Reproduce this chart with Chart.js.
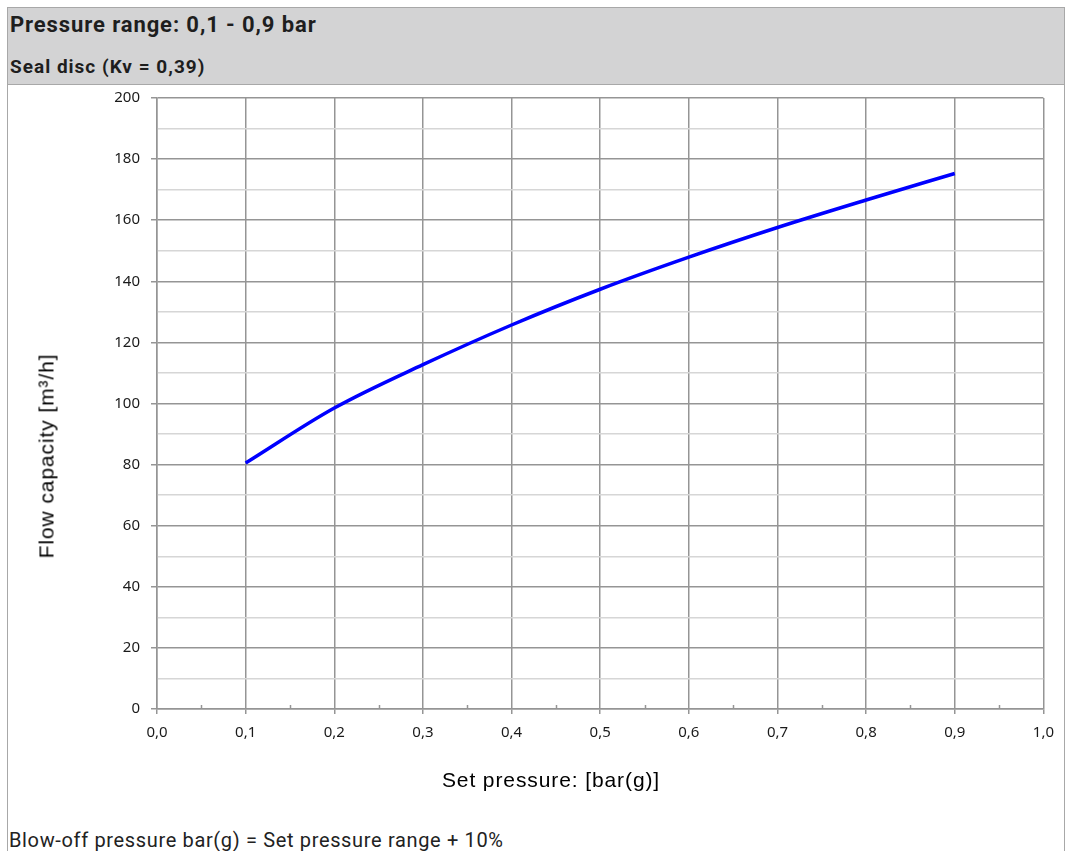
<!DOCTYPE html>
<html lang="en">
<head>
    <meta charset="UTF-8">
    <title>Flow capacity - Seal disc</title>
    <script src="https://cdn.jsdelivr.net/npm/chart.js"></script>
    <style>
        html, body { margin: 0; padding: 0; background: #fff; overflow: hidden; }
        body { width: 1072px; height: 851px; position: relative; }
        .frame {
            position: absolute; left: 7px; top: 7px; width: 1056px; height: 900px;
            border: 1px solid #a8a8a8;
        }
        .head {
            position: absolute; left: 7px; top: 7px; width: 1056px; height: 76px;
            background: #d3d3d4; border: 1px solid #a8a8a8;
        }
        .txt { position: absolute; white-space: nowrap; line-height: 1; color: #1e1e1e; font-family: Roboto, sans-serif; }
        .title { left: 10px; top: 14px; font-size: 22px; letter-spacing: 0.9px; font-weight: bold; }
        .subtitle { left: 10px; top: 57px; font-size: 19px; letter-spacing: 1px; font-weight: bold; }
        .footer { left: 9px; top: 830px; font-size: 20px; letter-spacing: 0.65px; color: #222; }
        .axis-title { font-family: "Liberation Sans", Arial, sans-serif; font-size: 21px; letter-spacing: 0.9px; color: #000; }
        .x-title { left: 551px; top: 769px; transform: translateX(-50%); }
        .y-title { left: 46px; top: 456px; transform: translate(-50%, -50%) rotate(-90deg); }
        .chart-box { position: absolute; left: 8px; top: 85px; width: 1056px; height: 725px; }
    </style>
</head>
<body>
    <div class="frame"></div>
    <div class="head"></div>
    <div class="txt title">Pressure range: 0,1 - 0,9 bar</div>
    <div class="txt subtitle">Seal disc (Kv = 0,39)</div>

    <div class="chart-box">
        <canvas id="flowChart" width="1056" height="725"></canvas>
    </div>

    <div class="txt axis-title y-title">Flow capacity [m³/h]</div>
    <div class="txt axis-title x-title">Set pressure: [bar(g)]</div>
    <div class="txt footer">Blow-off pressure bar(g) = Set pressure range + 10%</div>

    <script>
        // set pressure [bar(g)] and flow capacity [m3/h]
        const setPressure = [0.1, 0.2, 0.3, 0.4, 0.5, 0.6, 0.7, 0.8, 0.9];
        const flowCapacity = [80.5, 98.5, 112.7, 125.7, 137.4, 147.9, 157.6, 166.6, 175.3];

        // axis ticks
        const xMin = 0, xMax = 1, xStep = 0.1;
        const yMin = 0, yMax = 200, yStep = 10, yLabelStep = 20;
        const xMinorTicks = [0.05, 0.15, 0.25, 0.35, 0.45, 0.55, 0.65, 0.75, 0.85, 0.95];

        const majorGrid = '#959595';
        const minorGrid = '#d6d6d6';
        const tickFont = { family: '"Noto Sans", sans-serif', size: 15 };

        // small tick marks between the labelled x ticks, sitting on the axis line
        const minorTickPlugin = {
            id: 'minorTicks',
            afterDraw(chart) {
                const ctx = chart.ctx;
                const xScale = chart.scales.x;
                const bottom = chart.chartArea.bottom;
                ctx.save();
                ctx.strokeStyle = majorGrid;
                ctx.lineWidth = 1.5;
                xMinorTicks.forEach(v => {
                    const px = Math.round(xScale.getPixelForValue(v)) + 0.5;
                    ctx.beginPath();
                    ctx.moveTo(px, bottom - 4);
                    ctx.lineTo(px, bottom);
                    ctx.stroke();
                });
                ctx.restore();
            }
        };

        const ctx = document.getElementById('flowChart').getContext('2d');
        new Chart(ctx, {
            type: 'line',
            data: {
                datasets: [{
                    label: 'Seal disc',
                    data: setPressure.map((p, i) => ({ x: p, y: flowCapacity[i] })),
                    borderColor: '#0000ff',
                    borderWidth: 3.5,
                    pointRadius: 0,
                    fill: false,
                    cubicInterpolationMode: 'monotone'
                }]
            },
            options: {
                responsive: false,
                animation: false,
                layout: { padding: { top: 0, right: 20, left: 0, bottom: 0 } },
                plugins: {
                    legend: { display: false },
                    tooltip: { enabled: false }
                },
                scales: {
                    x: {
                        type: 'linear',
                        min: xMin,
                        max: xMax,
                        afterFit: scale => { scale.height = 101; },
                        border: { color: majorGrid, width: 1.5 },
                        grid: { color: majorGrid, lineWidth: 1.5, tickLength: 5, tickColor: majorGrid },
                        ticks: {
                            stepSize: xStep,
                            padding: 10,
                            color: '#1a1a1a',
                            font: tickFont,
                            maxRotation: 0,
                            callback: v => v.toFixed(1).replace('.', ',')
                        }
                    },
                    y: {
                        min: yMin,
                        max: yMax,
                        afterFit: scale => {
                            scale.width = 149;
                            scale.paddingTop = 13;
                            scale.paddingBottom = 0;
                        },
                        border: { color: majorGrid, width: 1.5 },
                        grid: {
                            color: c => (c.tick.value % yLabelStep === 0 ? majorGrid : minorGrid),
                            tickColor: c => (c.tick.value % yLabelStep === 0 ? majorGrid : 'rgba(0,0,0,0)'),
                            lineWidth: 1.5,
                            tickLength: 6
                        },
                        ticks: {
                            stepSize: yStep,
                            padding: 11,
                            color: '#1a1a1a',
                            font: tickFont,
                            autoSkip: false,
                            callback: v => (v % yLabelStep === 0 ? v : '')
                        }
                    }
                }
            },
            plugins: [minorTickPlugin]
        });
    </script>
</body>
</html>
